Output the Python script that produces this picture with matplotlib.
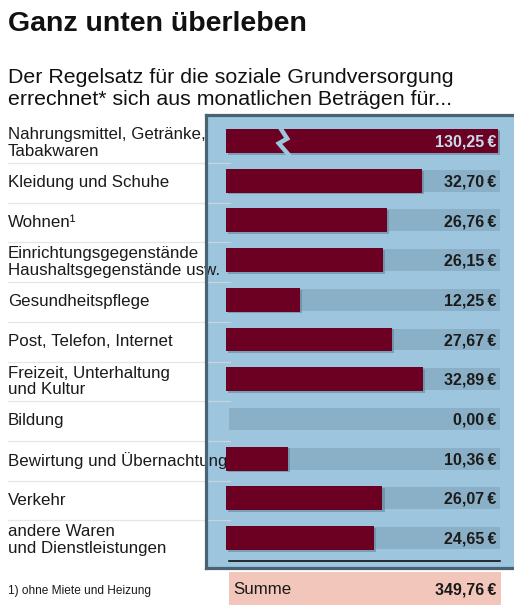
import matplotlib
matplotlib.use("Agg")
import matplotlib.pyplot as plt
from matplotlib.patches import Rectangle
from matplotlib.lines import Line2D
from matplotlib.transforms import blended_transform_factory

plt.rcParams['font.family'] = ['Liberation Sans', 'DejaVu Sans']

# ---------------- data ----------------
title = "Ganz unten überleben"
subtitle = "Der Regelsatz für die soziale Grundversorgung\nerrechnet* sich aus monatlichen Beträgen für..."
categories = [
    "Nahrungsmittel, Getränke,\nTabakwaren",
    "Kleidung und Schuhe",
    "Wohnen¹",
    "Einrichtungsgegenstände\nHaushaltsgegenstände usw.",
    "Gesundheitspflege",
    "Post, Telefon, Internet",
    "Freizeit, Unterhaltung\nund Kultur",
    "Bildung",
    "Bewirtung und Übernachtung",
    "Verkehr",
    "andere Waren\nund Dienstleistungen",
]
values = [130.25, 32.70, 26.76, 26.15, 12.25, 27.67, 32.89, 0.00, 10.36, 26.07, 24.65]
value_labels = ["130,25\u2009€", "32,70\u2009€", "26,76\u2009€", "26,15\u2009€", "12,25\u2009€",
                "27,67\u2009€", "32,89\u2009€", "0,00\u2009€", "10,36\u2009€", "26,07\u2009€", "24,65\u2009€"]
total_label = "Summe"
total_value = "349,76\u2009€"
footnote = "1) ohne Miete und Heizung"

# ---------------- style ----------------
W, H = 514, 605
PANEL = "#9dc5de"
TRACK = "#8ab0c7"
BORDER = "#4b6273"
BAR = "#6c0022"
SHADOW = "#5d7f95"
SUM_BG = "#f2c6ba"

def fx(px):
    return px / W

def fy(py):
    return 1 - py / H

fig = plt.figure(figsize=(W / 100, H / 100), dpi=100)
fig.patch.set_facecolor("white")

# panel background
fig.add_artist(Rectangle((fx(205.5), fy(568)), fx(530) - fx(205.5), fy(114.5) - fy(568),
                         transform=fig.transFigure, facecolor=PANEL, edgecolor="none", zorder=0))

# bar axes
row0, pitch = 141.0, 39.7
n = len(categories)
top_px = row0 - pitch / 2
bot_px = row0 + pitch * (n - 1) + pitch / 2
ax_l, ax_r = 226, 500
ax = fig.add_axes([fx(ax_l), fy(bot_px), fx(ax_r) - fx(ax_l), fy(top_px) - fy(bot_px)])
ax.set_zorder(5)
ax.patch.set_alpha(0)
ax.axis("off")
xmax = (ax_r - ax_l) / 6.0
ax.set_xlim(0, xmax)
ax.set_ylim(n - 0.5, -0.5)

ys = list(range(n))
cap = xmax - 0.35
shown = [min(v, cap) for v in values]

# tracks
ax.barh(ys, [xmax - 0.5] * n, left=0.5, height=0.55, color=TRACK, zorder=1)
# shadows
ax.barh([y + 0.045 for y in ys], shown, left=0.35, height=0.6, color=SHADOW, alpha=0.55, zorder=2)
# bars
ax.barh(ys, shown, height=0.6, color=BAR, zorder=3)

# break mark for values beyond the scale
for y, v, s in zip(ys, values, shown):
    if v > s:
        bx = 9.0
        ax.plot([bx, bx + 1.2, bx - 0.2, bx + 1.4],
                [y - 0.34, y - 0.06, y + 0.06, y + 0.34],
                color=PANEL, lw=3.2, solid_joinstyle="miter", zorder=4)

# value labels
for y, v, s, lab in zip(ys, values, shown, value_labels):
    col = "#c6dcea" if v > s else "#1b1b1b"
    ax.text(xmax - 0.65, y + 0.03, lab, ha="right", va="center", fontsize=11.5,
            fontweight="bold", color=col, zorder=6)

# line under the last row
ax.plot([0.5, xmax], [n - 0.5 + 0.08] * 2, color="black", lw=1.1, clip_on=False, zorder=6)

# category labels and separators (x in figure, y in data rows)
tr = blended_transform_factory(fig.transFigure, ax.transData)
for y, lab in zip(ys, categories):
    fig.text(fx(8), y + 0.05, lab, transform=tr, ha="left", va="center", fontsize=12.2,
             color="#1a1a1a", linespacing=1.1, zorder=2)
for y in ys[:-1]:
    fig.add_artist(Line2D([fx(8), fx(230)], [y + 0.555, y + 0.555], transform=tr,
                          color="#dcdcdc", lw=0.9, alpha=0.7, zorder=2))

# panel border (left, top, bottom) on top of labels
bk = dict(transform=fig.transFigure, color=BORDER, lw=2.3, zorder=4, solid_capstyle="projecting")
fig.add_artist(Line2D([fx(205.5), fx(205.5)], [fy(114.5), fy(568)], **bk))
fig.add_artist(Line2D([fx(205.5), fx(520)], [fy(114.5), fy(114.5)], **bk))
fig.add_artist(Line2D([fx(205.5), fx(520)], [fy(568), fy(568)], **bk))

# sum box
fig.add_artist(Rectangle((fx(229), fy(606)), fx(501) - fx(229), fy(572) - fy(606),
                         transform=fig.transFigure, facecolor=SUM_BG, edgecolor="none", zorder=1))
fig.text(fx(233), fy(590), total_label, ha="left", va="center", fontsize=12.2, color="#1a1a1a")
fig.text(fx(496), fy(590), total_value, ha="right", va="center", fontsize=11.5,
         fontweight="bold", color="#1a1a1a")

# titles
fig.text(fx(8), fy(31), title, ha="left", va="baseline", fontsize=20.5, fontweight="bold", color="#111111")
fig.text(fx(8), fy(105), subtitle, ha="left", va="baseline", fontsize=15.4, color="#111111",
         linespacing=1.2)
fig.text(fx(8), fy(591), footnote, ha="left", va="center", fontsize=8.6, color="#1a1a1a")

fig.savefig("out.png", dpi=100)
